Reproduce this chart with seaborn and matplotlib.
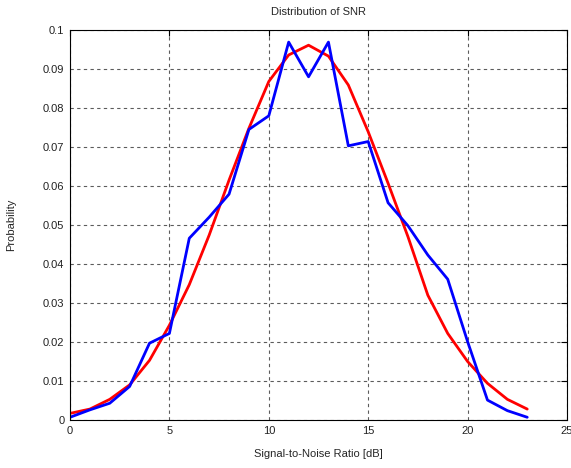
import pandas as pd
import matplotlib
matplotlib.use("Agg")
import matplotlib.pyplot as plt
import seaborn as sns

# SNR bins (dB)
snr_db = list(range(0, 24))

# theoretical (red) and measured (blue) probabilities
theory = [0.0017, 0.0028, 0.0053, 0.0090, 0.0153, 0.0243, 0.0347, 0.0474,
          0.0615, 0.0748, 0.0868, 0.0936, 0.0961, 0.0933, 0.0859, 0.0739,
          0.0607, 0.0470, 0.0320, 0.0222, 0.0150, 0.0094, 0.0053, 0.0028]
measured = [0.0007, 0.0026, 0.0043, 0.0086, 0.0197, 0.0222, 0.0466, 0.0520,
            0.0579, 0.0745, 0.0780, 0.0969, 0.0880, 0.0969, 0.0703, 0.0714,
            0.0557, 0.0498, 0.0423, 0.0361, 0.0201, 0.0051, 0.0024, 0.0007]

df = pd.DataFrame({'SNR': snr_db, 'Theory': theory, 'Measured': measured})

sns.set_style("white")
plt.rcParams['font.family'] = ['Liberation Sans', 'DejaVu Sans']

fig = plt.figure(figsize=(5.71, 4.68), dpi=100)
ax = fig.add_axes([70 / 571, 48 / 468, 497 / 571, 390 / 468])

sns.lineplot(data=df, x='SNR', y='Theory', color='red', linewidth=2, ax=ax)
sns.lineplot(data=df, x='SNR', y='Measured', color='blue', linewidth=2, ax=ax)

ax.set_xlim(0, 25)
ax.set_ylim(0, 0.1)
ax.set_xticks([0, 5, 10, 15, 20, 25])
ax.set_yticks([i / 100 for i in range(11)])
ax.set_yticklabels(['0'] + [f'{i / 100:g}' for i in range(1, 11)])

# matlab-style dashed grid
ax.grid(True, color='#333333', linestyle=(0, (3, 3)), linewidth=0.8, alpha=0.8)
for s in ax.spines.values():
    s.set_color('black')
    s.set_linewidth(0.8)

ax.tick_params(direction='in', length=4, width=0.8, labelsize=8,
               top=True, right=True, colors='black', labelcolor='#222222', pad=4)

ax.set_title('Distribution of SNR', fontsize=8, pad=11)
ax.set_xlabel('Signal-to-Noise Ratio [dB]', fontsize=8, labelpad=10)
ax.set_ylabel('Probability', fontsize=8, labelpad=19)

fig.savefig('out.png', dpi=100)
